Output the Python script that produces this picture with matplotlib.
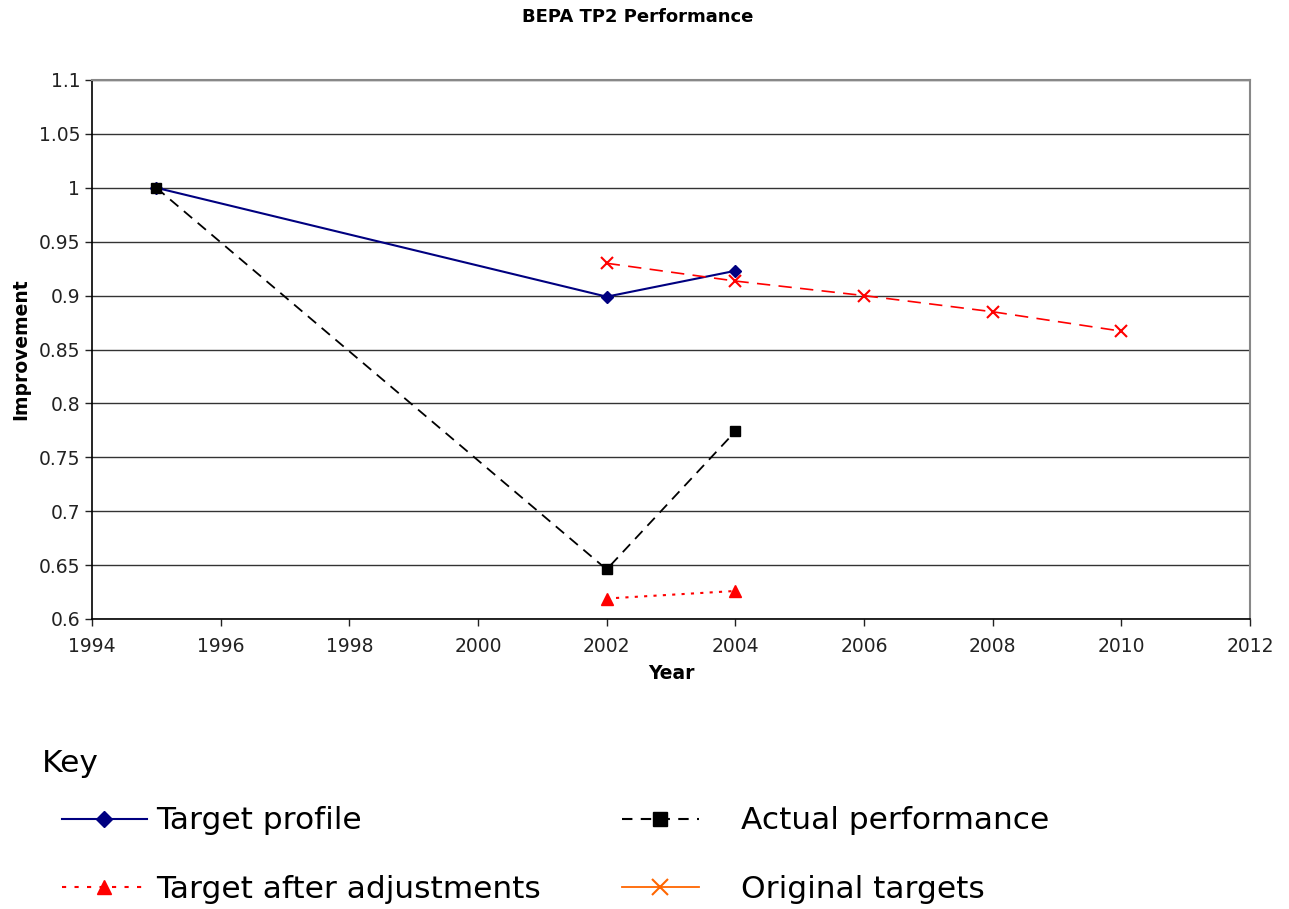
import matplotlib
matplotlib.use("Agg")
import matplotlib.pyplot as plt
from matplotlib.lines import Line2D

# ---- data ----
years_profile = [1995, 2002, 2004]
target_profile = [1.0, 0.899, 0.923]

years_actual = [1995, 2002, 2004]
actual_performance = [1.0, 0.646, 0.774]

years_adjusted = [2002, 2004]
target_adjusted = [0.619, 0.626]

years_original = [2002, 2004, 2006, 2008, 2010]
original_targets = [0.930, 0.9135, 0.900, 0.885, 0.867]

x_ticks = [1994, 1996, 1998, 2000, 2002, 2004, 2006, 2008, 2010, 2012]
y_ticks = [0.6, 0.65, 0.7, 0.75, 0.8, 0.85, 0.9, 0.95, 1.0, 1.05, 1.1]
y_tick_labels = ["0.6", "0.65", "0.7", "0.75", "0.8", "0.85", "0.9", "0.95", "1", "1.05", "1.1"]

plt.rcParams['font.family'] = ['DejaVu Sans']

fig = plt.figure(figsize=(12.89, 9.09), dpi=100)
ax = fig.add_axes([92/1289, 1 - 619/909, (1250-92)/1289, (619-80)/909])

ax.plot(years_profile, target_profile, color='#000080', lw=1.5, marker='D', ms=6,
        zorder=4)
ax.plot(years_actual, actual_performance, color='black', lw=1.3, ls=(0, (6, 4)),
        marker='s', ms=7, zorder=4)
ax.plot(years_adjusted, target_adjusted, color='#FF0000', lw=1.5, ls=(0, (1.5, 3)),
        marker='^', ms=8, zorder=4)
ax.plot(years_original, original_targets, color='#FF0000', lw=1.2, ls=(0, (8, 5)),
        marker='x', ms=9, mew=1.5, zorder=4)

ax.set_xlim(1994, 2012)
ax.set_ylim(0.6, 1.1)
ax.set_xticks(x_ticks)
ax.set_xticklabels([str(t) for t in x_ticks])
ax.set_yticks(y_ticks)
ax.set_yticklabels(y_tick_labels)
ax.yaxis.grid(True, color='#333333', lw=1)
ax.set_axisbelow(True)
ax.tick_params(axis='both', labelsize=13.5, direction='out', length=5, width=1,
               colors='#222222')
ax.tick_params(axis='x', pad=8)
for s in ['top', 'right']:
    ax.spines[s].set_color('#888888')
    ax.spines[s].set_linewidth(1.5)
for s in ['left', 'bottom']:
    ax.spines[s].set_color('black')
    ax.spines[s].set_linewidth(1.2)

ax.set_xlabel('Year', fontsize=13.5, fontweight='bold', labelpad=6)
ax.set_ylabel('Improvement', fontsize=13.5, fontweight='bold', labelpad=6)

fig.text(0.495, 1 - 17/909, 'BEPA TP2 Performance', ha='center', va='center',
         fontsize=13, fontweight='bold')

# ---- key ----
fig.text(42/1289, 1 - 763/909, 'Key', ha='left', va='center', fontsize=22.5)

h_profile = Line2D([], [], color='#000080', lw=1.5, marker='D', ms=8)
h_adjusted = Line2D([], [], color='#FF0000', lw=1.5, ls=(0, (2, 4)), marker='^', ms=10)
h_actual = Line2D([], [], color='black', lw=1.5, ls=(0, (5, 4)), marker='s', ms=10)
h_original = Line2D([], [], color='#FF6600', lw=1.3, marker='x', ms=12, mew=1.5)

leg1 = fig.legend([h_profile, h_adjusted], ['Target profile', 'Target after adjustments'],
                  loc='center left', bbox_to_anchor=(34/1289, 1 - 855/909),
                  frameon=False, fontsize=22.5, handlelength=2.7, handletextpad=0.3,
                  labelspacing=1.25)
leg2 = fig.legend([h_actual, h_original], ['Actual performance', 'Original targets'],
                  loc='center left', bbox_to_anchor=(594/1289, 1 - 855/909),
                  frameon=False, fontsize=22.5, handlelength=2.45, handletextpad=1.35,
                  labelspacing=1.25)

fig.savefig('out.png', dpi=100)
